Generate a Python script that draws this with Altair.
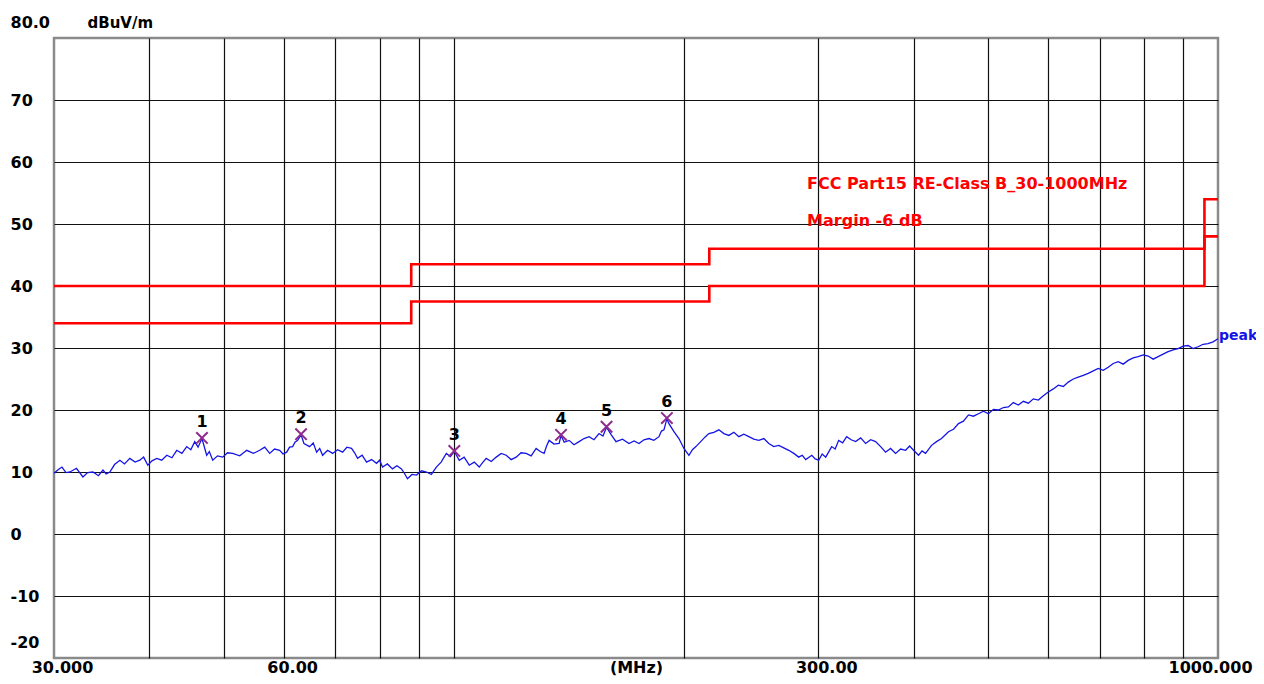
import altair as alt
import pandas as pd

# ---------------- data ----------------
trace_freq = [30.0, 30.4, 30.73, 31.1, 31.48, 32.1, 32.73, 33.2, 33.73, 34.3, 34.77, 35.1, 35.5, 36.0, 36.59,
              37.1, 37.7, 38.3, 38.85, 39.3, 39.8, 40.3, 40.89, 41.5, 42.14, 42.8, 43.42, 44.1, 44.75, 45.3,
              45.84, 46.3, 46.85, 47.52, 47.9, 48.39, 49.1, 49.87, 50.6, 51.39, 52.5, 53.61, 54.7, 55.75, 56.6,
              57.45, 58.3, 59.21, 59.8, 60.47, 61.0, 61.57, 62.0, 62.5, 63.15, 63.7, 64.8, 65.5, 66.18, 66.8,
              67.38, 68.4, 69.44, 70.5, 71.56, 72.5, 73.52, 74.2, 74.86, 75.9, 76.92, 78.1, 79.26, 80.0, 80.71,
              81.9, 83.17, 84.3, 85.45, 86.2, 87.01, 88.2, 89.4, 90.8, 92.13, 93.5, 94.92, 96.3, 97.81, 99.0,
              100.2, 101.71, 103.2, 104.81, 106.4, 108.01, 109.1, 110.31, 112.0, 113.68, 115.4, 117.15, 118.9,
              120.72, 122.5, 124.41, 126.3, 128.21, 129.8, 131.33, 132.3, 133.32, 135.3, 137.4, 138.2, 139.5,
              141.59, 143.7, 145.91, 148.1, 150.37, 152.6, 154.96, 156.8, 158.5, 160.8, 163.09, 166.3, 169.59,
              172.2, 174.77, 177.4, 180.11, 182.8, 185.61, 187.0, 188.42, 190.1, 191.27, 194.18, 197.12, 200.11,
              203.14, 205.3, 207.46, 211.24, 213.5, 215.73, 219.0, 222.32, 225.7, 229.11, 232.6, 236.11, 239.7,
              243.32, 247.0, 250.75, 254.6, 258.41, 262.3, 266.3, 270.3, 274.44, 278.6, 282.82, 285.8, 288.84,
              294.1, 297.2, 300.33, 303.5, 306.72, 312.31, 315.6, 318.94, 322.8, 326.7, 331.2, 335.67, 340.8,
              345.93, 351.2, 356.49, 361.9, 367.38, 372.9, 378.62, 384.4, 390.18, 394.9, 399.67, 405.72, 410.0,
              414.36, 421.9, 428.3, 434.77, 444.01, 450.8, 457.58, 464.5, 471.55, 478.7, 485.95, 493.3, 500.78,
              508.4, 516.07, 523.9, 531.82, 539.9, 548.06, 556.4, 564.79, 573.4, 582.03, 590.9, 599.81, 608.9,
              618.12, 627.5, 636.99, 646.7, 656.44, 666.4, 676.49, 686.8, 697.14, 707.7, 718.43, 729.3, 740.36,
              751.6, 762.97, 774.6, 786.27, 798.2, 810.27, 822.6, 835.01, 847.7, 860.51, 873.6, 886.79, 900.3,
              913.87, 927.7, 941.78, 956.1, 970.53, 985.2, 1000.0]
trace_level = [9.8, 10.4, 10.8, 9.9, 10.0, 10.6, 9.2, 9.9, 10.0, 9.4, 10.3, 9.7, 10.0, 11.2, 11.9,
               11.3, 12.2, 11.6, 11.9, 12.4, 11.1, 11.8, 12.2, 11.9, 12.7, 12.3, 13.5, 13.0, 14.1, 13.6,
               14.9, 14.0, 15.4, 12.7, 13.3, 11.9, 12.6, 12.4, 13.1, 13.0, 12.6, 13.5, 13.0, 13.5, 14.0,
               13.0, 13.7, 13.5, 12.9, 13.2, 14.0, 14.1, 14.8, 15.1, 16.0, 14.6, 14.1, 14.7, 13.2, 13.8,
               12.7, 13.5, 13.0, 13.6, 13.2, 14.0, 13.8, 13.1, 12.2, 12.7, 11.6, 12.0, 11.4, 11.9, 10.8,
               11.3, 10.5, 11.0, 10.5, 9.8, 8.9, 9.6, 9.5, 10.2, 10.0, 9.6, 10.8, 11.6, 13.0, 12.5,
               13.3, 11.9, 12.4, 11.1, 11.6, 10.8, 11.5, 12.2, 11.7, 12.4, 13.0, 12.7, 12.0,
               12.4, 13.1, 13.0, 12.6, 13.8, 13.3, 13.0, 14.2, 15.1, 14.5, 14.6, 15.9, 14.8,
               15.1, 14.4, 14.9, 15.4, 15.7, 15.2, 16.2, 15.8, 17.2, 16.0, 14.9, 15.3, 14.6,
               15.0, 14.6, 15.2, 15.4, 15.1, 15.7, 16.6, 16.8, 18.6, 17.8, 16.5, 15.4, 13.8,
               12.7, 13.6, 14.1, 15.1, 15.7, 16.2, 16.4, 16.8, 16.2, 15.9, 16.4, 15.7, 16.1,
               15.7, 15.3, 15.1, 15.4, 14.6, 14.1, 14.3, 13.9, 13.5, 13.0, 12.4, 12.7, 12.0,
               12.7, 12.1, 11.9, 12.9, 12.4, 14.1, 13.7, 15.1, 14.7, 15.7, 15.2, 14.9, 15.5,
               14.6, 15.2, 14.9, 14.1, 13.2, 13.8, 13.0, 13.7, 13.5, 14.2, 13.5, 12.7, 13.4,
               13.0, 14.3, 14.9, 15.4, 16.5, 16.9, 17.8, 18.2, 19.2, 19.0, 19.4, 19.8, 19.4,
               20.1, 20.0, 20.4, 20.5, 21.2, 20.8, 21.4, 21.1, 21.8, 21.6, 22.3, 22.9, 23.4,
               24.0, 23.8, 24.5, 25.0, 25.3, 25.6, 25.9, 26.3, 26.7, 26.4, 26.9, 27.5, 27.8,
               27.4, 28.0, 28.4, 28.6, 28.9, 28.7, 28.2, 28.6, 29.0, 29.4, 29.7, 29.9, 30.3,
               30.4, 29.9, 30.2, 30.6, 30.7, 31.0, 31.5]

marker_freq = [46.85, 63.15, 100.2, 138.2, 158.5, 190.1]
marker_level = [15.5, 16.1, 13.4, 16.0, 17.3, 18.7]
marker_label = ["1", "2", "3", "4", "5", "6"]

limit_freq = [30, 88, 216, 960, 1000]
limit_level = [40, 43.5, 46, 54, 54]
margin_level = [34, 37.5, 40, 48, 48]

x_ticks = [30, 40, 50, 60, 70, 80, 90, 100, 200, 300, 400, 500, 600, 700, 800, 900, 1000]
y_ticks = [-20, -10, 0, 10, 20, 30, 40, 50, 60, 70, 80]

annot_text = ["FCC Part15 RE-Class B_30-1000MHz", "Margin -6 dB"]
annot_freq = [290, 290]
annot_level = [56.4, 50.5]

peak_text = ["peak"]
peak_freq = [1000.0]
peak_level = [31.5]

# ---------------- frames ----------------
trace_df = pd.DataFrame({"freq": trace_freq, "level": trace_level})
marker_df = pd.DataFrame({"freq": marker_freq, "level": marker_level, "label": marker_label})
limit_df = pd.DataFrame({"freq": limit_freq, "level": limit_level})
margin_df = pd.DataFrame({"freq": limit_freq, "level": margin_level})
annot_df = pd.DataFrame({"freq": annot_freq, "level": annot_level, "text": annot_text})
peak_df = pd.DataFrame({"freq": peak_freq, "level": peak_level, "text": peak_text})

FONT = "DejaVu Sans"
FS = 16

xscale = alt.Scale(type="log", domain=[30, 1000], nice=False)
yscale = alt.Scale(domain=[-20, 80], nice=False, zero=False)

edge_y = "datum.value == 80 || datum.value == -20"
edge_x = "datum.value == 30 || datum.value == 1000"

x_axis = alt.Axis(
    values=x_ticks,
    labelExpr="datum.value == 30 ? '30.000' : datum.value == 60 ? '60.00' : datum.value == 300 ? '300.00' : datum.value == 1000 ? '1000.000' : ''",
    labelOverlap=False, labelFlush=False, labelBound=False, labelAlign="center",
    labelOffset={"condition": {"test": "datum.value == 1000", "value": -8}, "value": 8},
    labelBaseline="middle", labelPadding=9,
    labelFont=FONT, labelFontSize=FS, labelFontWeight="bold", labelColor="#000000",
    ticks=False, tickSize=0, domain=False,
    grid=True, gridColor="#111111", gridWidth=1.2,
    gridOpacity={"condition": {"test": edge_x, "value": 0}, "value": 1},
    title="(MHz)", titleFont=FONT, titleFontSize=FS, titleFontWeight="bold", titleColor="#000000",
    titleBaseline="middle", titleY=9,
)
y_axis = alt.Axis(
    values=y_ticks,
    labelExpr="datum.value == 80 ? '80.0' : '' + datum.value",
    labelOverlap=False, labelFlush=False, labelBound=False, labelAlign="left",
    labelOffset={"condition": {"test": edge_y, "value": -16}, "value": 0},
    labelBaseline="middle", labelPadding=44,
    labelFont=FONT, labelFontSize=FS, labelFontWeight="bold", labelColor="#000000",
    ticks=False, tickSize=0, domain=False,
    grid=True, gridColor="#111111", gridWidth=1.2,
    gridOpacity={"condition": {"test": edge_y, "value": 0}, "value": 1},
    title="dBuV/m", titleFont=FONT, titleFontSize=FS - 1, titleFontWeight="bold", titleColor="#000000",
    titleAngle=0, titleAlign="left", titleBaseline="middle", titleX=33, titleY=-16,
)

X = alt.X("freq:Q", scale=xscale)
Y = alt.Y("level:Q", scale=yscale)

trace = alt.Chart(trace_df).mark_line(color="#1414E6", strokeWidth=1.3).encode(
    x=alt.X("freq:Q", scale=xscale, axis=x_axis),
    y=alt.Y("level:Q", scale=yscale, axis=y_axis),
)

limit = alt.Chart(limit_df).mark_line(color="#FF0000", strokeWidth=2.6, interpolate="step-after").encode(x=X, y=Y)
margin = alt.Chart(margin_df).mark_line(color="#FF0000", strokeWidth=2.6, interpolate="step-after").encode(x=X, y=Y)

markers = alt.Chart(marker_df).mark_point(
    shape="M-1,-1L1,1M-1,1L1,-1", filled=False, size=130, strokeWidth=2, color="#8E2B8E", opacity=1
).encode(x=X, y=Y)
marker_text = alt.Chart(marker_df).mark_text(
    dy=-16, font=FONT, fontSize=FS, fontWeight="bold", color="#000000", baseline="middle"
).encode(x=X, y=Y, text="label:N")

annot = alt.Chart(annot_df).mark_text(
    align="left", baseline="middle", font=FONT, fontSize=FS, fontWeight="bold", color="#FF0000"
).encode(x=X, y=Y, text="text:N")

peak = alt.Chart(peak_df).mark_text(
    align="left", baseline="middle", dx=1, dy=-3, font=FONT, fontSize=14, fontWeight="bold", color="#1414E6"
).encode(x=X, y=Y, text="text:N")

chart = alt.layer(trace, limit, margin, markers, marker_text, annot, peak).properties(
    width=1164, height=620,
    autosize=alt.AutoSizeParams(type="none"),
    padding={"left": 46, "top": 30, "right": 38, "bottom": 18},
    background="#FFFFFF",
).configure_view(stroke="#8A8A8A", strokeWidth=2.5)

chart.save("out.html", embed_options={"renderer": "svg", "actions": False})
